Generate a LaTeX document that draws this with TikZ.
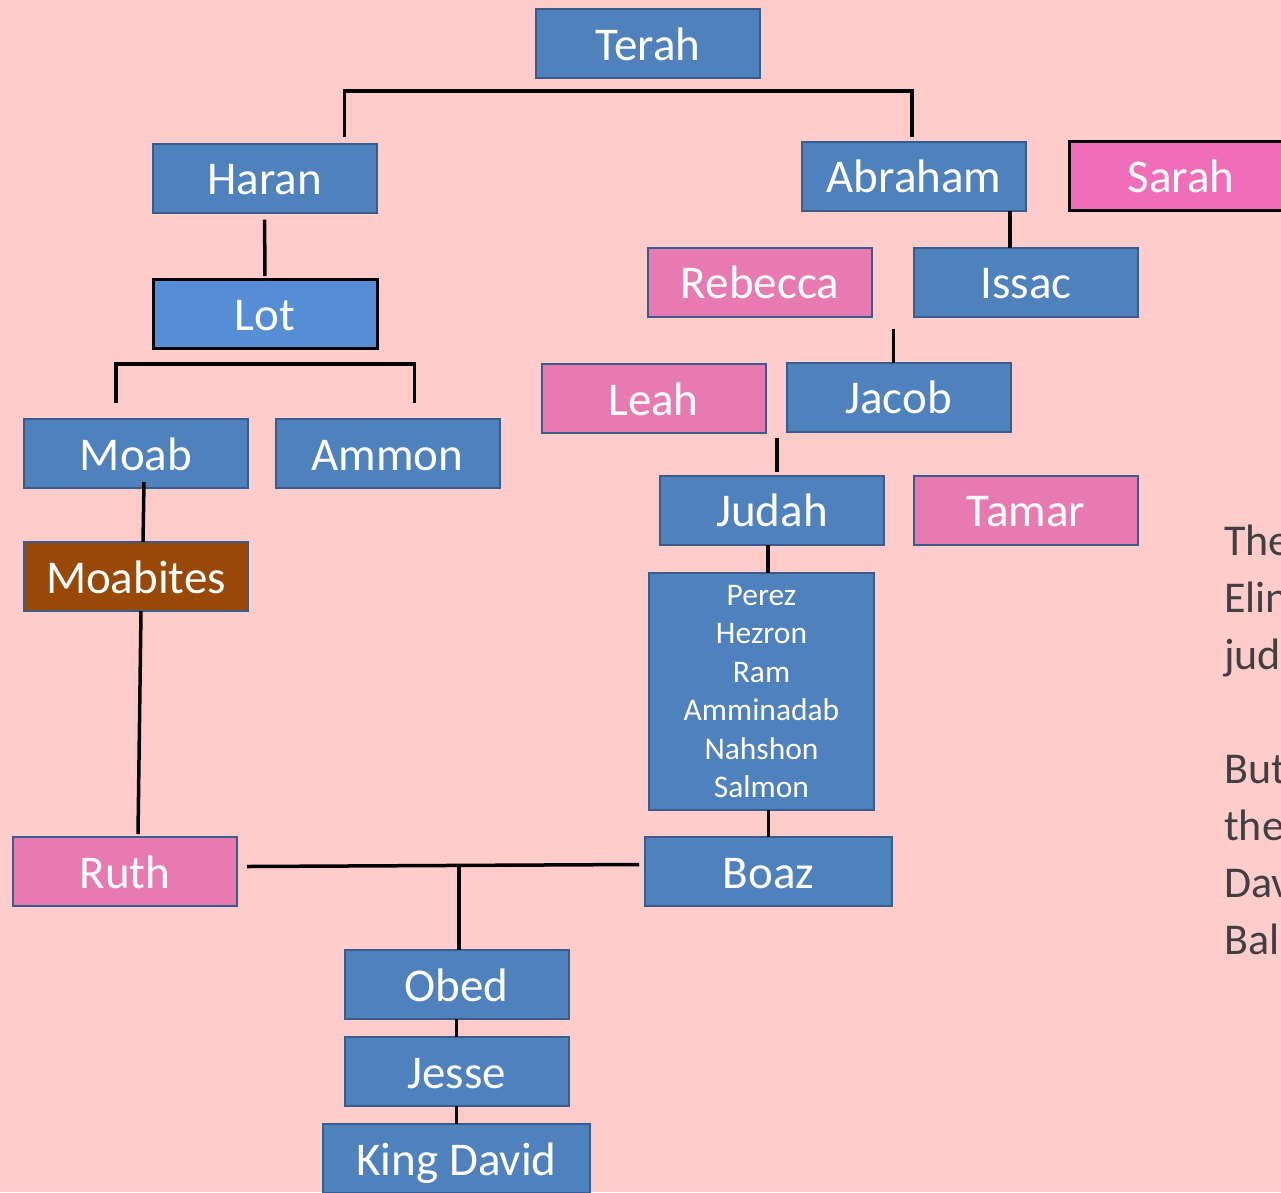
\documentclass[tikz,border=0pt]{standalone}
\usepackage{fontspec}
\setmainfont{Carlito}
\usetikzlibrary{calc,positioning}
\definecolor{bgpink}{RGB}{255,204,204}
\definecolor{boxblue}{RGB}{79,129,189}
\definecolor{edgeblue}{RGB}{56,93,138}
\definecolor{wifepink}{RGB}{232,122,178}
\definecolor{sarahpink}{RGB}{240,110,185}
\definecolor{lotblue}{RGB}{85,142,213}
\definecolor{moabbrown}{RGB}{152,72,7}
\definecolor{notegray}{RGB}{64,64,64}
\tikzset{
	family tree/.style={
		x=1pt, y=-1pt,
		tie/.style={draw=black,line width=3.5pt},
		notetext/.style={text=notegray,inner sep=0pt,
			font=\fontsize{44}{57}\selectfont}
		},
	boxbase/.style={draw=edgeblue,line width=2pt,fill=boxblue,text=white,
		minimum width=224pt,minimum height=69pt,inner sep=0pt,outer sep=0pt},
	person/.style={boxbase,font=\fontsize{47}{56}\selectfont,
		text height=33pt,text depth=0pt},
	wife/.style={person,fill=wifepink},
	framed/.style={draw=black,line width=3pt},
	gens/.style={boxbase,align=center,minimum width=225pt,minimum height=237pt,
		font=\fontsize{31.5}{38.4}\selectfont}
}

\begin{document}
\begin{tikzpicture}[family tree]
	\fill[bgpink] (0,0) rectangle (1281,1192);
	\useasboundingbox (0,0) rectangle (1281,1192);
	% Terah's line
	\node[person] (terah) at (648,43.5) {Terah};
	\node[person] (haran) at (264.5,178) {Haran};
	\node[person] (abraham) at (914,176) {Abraham};
	\node[wife,fill=sarahpink,framed] (sarah) at (1181,176) {Sarah};
	\node[wife] (rebecca) at (760,282) {Rebecca};
	\node[person] (issac) at (1026,282) {Issac};
	\node[person,fill=lotblue,framed] (lot) at (265,313.5) {Lot};
	\node[wife] (leah) at (653.5,398.5) {Leah};
	\node[person] (jacob) at (898.5,397) {Jacob};
	\node[person] (moab) at (136,453.5) {Moab};
	\node[person] (ammon) at (387.5,453.5) {Ammon};
	\node[person] (judah) at (772,510) {Judah};
	\node[wife] (tamar) at (1026,510) {Tamar};
	\node[person,fill=moabbrown] (moabites) at (136,576.5) {Moabites};
	\node[gens] (gen) at (761.5,691.5)
		{Perez\\Hezron\\Ram\\Amminadab\\Nahshon\\Salmon};
	\node[wife] (ruth) at (125,871.5) {Ruth};
	\node[person,minimum width=247pt] (boaz) at (768.5,871.5) {Boaz};
	\node[person] (obed) at (456.5,984.5) {Obed};
	\node[person,below=18pt of obed] (jesse) {Jesse};
	\node[person,minimum width=267pt,below=18pt of jesse] (king) {King David};
	% connectors
	\draw[tie] ($(haran.north)+(80,-7)$) |- ($(terah.south)+(0,13)$)
		-| ($(abraham.north)+(-2,-5)$);
	\draw[tie,shorten <=7pt,shorten >=3pt] (haran) -- (lot);
	\draw[tie] ($(moab.north)+(-20,-16)$) |- ($(lot.south)+(0,16)$)
		-| ($(ammon.north)+(27,-16)$);
	\draw[tie] ([xshift=-16pt]abraham.south east) -- ([xshift=-16pt]abraham.south east |- issac.north);
	\coordinate (jacobtop) at ($(jacob.north)+(-5,-34)$);
	\draw[tie] (jacobtop) -- (jacobtop |- jacob.north);
	\coordinate (judahtop) at ($(judah.north)+(5,-38)$);
	\draw[tie] (judahtop) -- ($(judah.north)+(5,-4)$);
	\draw[tie] ([xshift=-4pt]judah.south) -- ([xshift=-4pt]judah.south |- gen.north);
	\draw[tie] (boaz.north |- gen.south) -- (boaz.north);
	\draw[tie] ($(moab.south)+(8,-6)$) -- ($(moabites.north)+(7,0)$);
	\draw[tie] ($(moabites.south)+(5,0)$) -- ($(ruth.north)+(13,-3)$);
	\draw[tie] ($(ruth.east)+(10,-5)$) -- coordinate[pos=.541] (wed) ($(boaz.west)+(-6,-7)$);
	\draw[tie] (wed) -- (wed |- obed.north);
	\draw[tie] (obed.south) -- (jesse.north);
	\draw[tie] (jesse.south) -- (king.north);
	% side note
	\foreach \w/\k in {The/0,Elin/1,jud/2,But/4,the/5,Dav/6,Bal/7}
		\node[notetext,anchor=base west] (note\k) at (1224,{555+57*\k}) {\w};
\end{tikzpicture}
\end{document}
